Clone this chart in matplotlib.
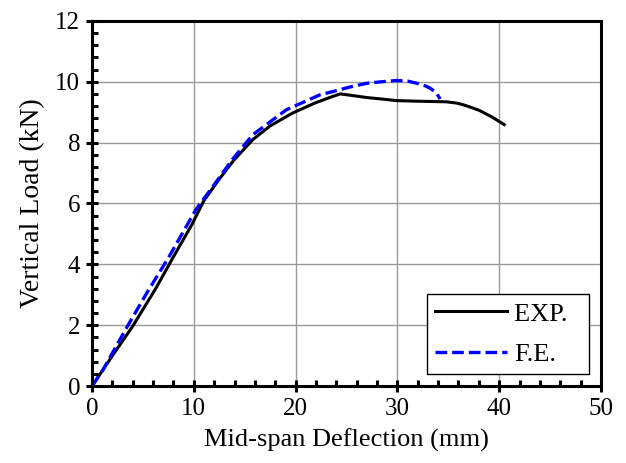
import matplotlib
matplotlib.use("Agg")
import matplotlib.pyplot as plt
from matplotlib.ticker import MultipleLocator

plt.rcParams["font.family"] = ["Liberation Serif", "DejaVu Serif"]

# EXP. curve (mid-span deflection mm, vertical load kN)
exp_x = [0.0, 0.5, 2.0, 4.0, 6.3, 8.0, 9.8, 11.0, 12.5, 13.9, 15.8, 17.5, 19.7,
         21.9, 23.5, 24.4, 25.5, 27.0, 28.5, 29.9, 32.0, 34.8, 35.8, 36.5,
         37.3, 38.1, 39.3, 40.5]
exp_y = [0.0, 0.25, 1.0, 1.97, 3.23, 4.25, 5.3, 6.1, 6.8, 7.41, 8.1, 8.55, 8.97,
         9.3, 9.5, 9.6, 9.55, 9.48, 9.43, 9.38, 9.36, 9.34, 9.3, 9.24,
         9.15, 9.05, 8.84, 8.59]

# F.E. curve
fe_x = [0.0, 1.1, 3.4, 5.4, 7.6, 9.1, 10.2, 11.9, 13.8, 15.8, 19.1, 22.4,
        23.7, 25.5, 27.0, 28.5, 29.9, 31.0, 31.9, 32.7, 33.2, 33.8, 34.2]
fe_y = [0.0, 0.55, 1.92, 3.07, 4.27, 5.15, 5.8, 6.57, 7.45, 8.26, 9.08, 9.57,
        9.68, 9.84, 9.95, 10.0, 10.04, 10.02, 9.95, 9.87, 9.79, 9.65, 9.43]

fig = plt.figure(figsize=(6.26, 4.63), dpi=100)
ax = fig.add_axes([0.147, 0.166, 0.813, 0.789])

ax.plot(exp_x, exp_y, color="black", lw=2.2, label="EXP.  ")
ax.plot(fe_x, fe_y, color="#0000ff", lw=2.4, ls=(0, (3.5, 1.5)), label="F.E.")

ax.set_xlim(0, 50)
ax.set_ylim(0, 12)
ax.xaxis.set_major_locator(MultipleLocator(10))
ax.xaxis.set_minor_locator(MultipleLocator(2))
ax.yaxis.set_major_locator(MultipleLocator(2))
ax.yaxis.set_minor_locator(MultipleLocator(0.4))
ax.grid(True, which="major", color="#999999", lw=1.0)
ax.set_axisbelow(True)

ax.tick_params(which="major", direction="inout", length=9, width=2.2,
               labelsize=18, pad=4)
ax.tick_params(which="minor", direction="in", length=4, width=2.2)
for s in ax.spines.values():
    s.set_linewidth(2.2)

ax.set_xlabel("Mid-span Deflection (mm)", fontsize=19, labelpad=6)
ax.set_ylabel("Vertical Load (kN)", fontsize=20, labelpad=7)

leg = ax.legend(loc="lower right", fontsize=19, handlelength=2.7,
                fancybox=False, framealpha=1, edgecolor="black",
                borderaxespad=0.45, labelspacing=0.65, borderpad=0.3,
                handletextpad=0.3)
leg.get_frame().set_linewidth(1.0)

fig.savefig("out.png", dpi=100)
